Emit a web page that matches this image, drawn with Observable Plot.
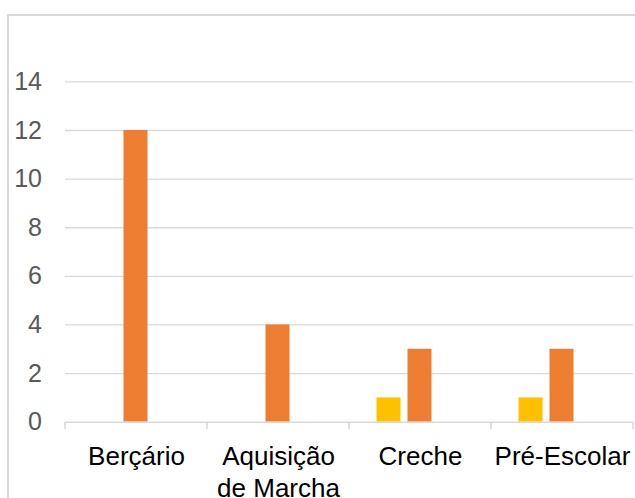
<!DOCTYPE html>
<html>
<head>
<meta charset="utf-8">
<script src="https://cdn.jsdelivr.net/npm/d3@7"></script>
<script src="https://cdn.jsdelivr.net/npm/@observablehq/plot@0.6"></script>
<style>
  html, body { margin: 0; padding: 0; background: #fff; overflow: hidden; }
  #wrap { position: relative; width: 635px; height: 498px; overflow: hidden; }
  #border { position: absolute; left: 6.5px; top: 13.5px; width: 700px; height: 600px; border: 2px solid #d9d9d9; box-sizing: border-box; }
  #chart { position: absolute; left: 0; top: 0; }
</style>
</head>
<body>
<div id="wrap"><div id="border"></div><div id="chart"></div></div>
<script>
const categories = ["Berçário", "Aquisição de Marcha", "Creche", "Pré-Escolar"];
const categoryLabels = ["Berçário", "Aquisição\nde Marcha", "Creche", "Pré-Escolar"];
const seriesNames = ["Série 1", "Série 2", "Série 3"];
const series1 = [0, 0, 1, 1];
const series2 = [12, 4, 3, 3];
const series3 = [0, 0, 0, 0];
const seriesColors = ["#FFC000", "#ED7D31", "#A5A5A5"];
const yTicks = [0, 2, 4, 6, 8, 10, 12, 14];

const allSeries = [series1, series2, series3];
const data = [];
categories.forEach((c, i) => {
  allSeries.forEach((s, j) => {
    if (s[i] > 0) data.push({category: c, series: seriesNames[j], value: s[i]});
  });
});
const labelOf = new Map(categories.map((c, i) => [c, categoryLabels[i]]));

const W = 635, H = 498;
const mL = 64.5, mR = 1.5, mT = 81.4, mB = 76.3;

const plot = Plot.plot({
  width: W,
  height: H,
  marginLeft: mL,
  marginRight: mR,
  marginTop: mT,
  marginBottom: mB,
  style: {fontFamily: "Arial, 'Liberation Sans', sans-serif", background: "transparent", overflow: "visible"},
  fx: {domain: categories, padding: 0, label: null},
  x: {domain: seriesNames, paddingInner: 0.21875, paddingOuter: 0.832, axis: null},
  y: {domain: [0, 14], label: null},
  color: {domain: seriesNames, range: seriesColors},
  marks: [
    Plot.gridY(yTicks.filter(d => d > 0), {stroke: "#d9d9d9", strokeOpacity: 1, strokeWidth: 1.3}),
    Plot.barY(data, {fx: "category", x: "series", y: "value", fill: "series"}),
    Plot.ruleY([0], {stroke: "#d9d9d9", strokeWidth: 1.5}),
    Plot.axisY(yTicks, {tickSize: 0, tickPadding: 23.5, fontSize: 25, fill: "#595959", label: null}),
    Plot.axisFx({anchor: "bottom", tickSize: 0, tickPadding: 20.3, fontSize: 26, fill: "#000", lineHeight: 1.23, label: null, tickFormat: d => labelOf.get(d)})
  ]
});

// boundary tick marks along the category axis, placed with the library's scales
const fx = plot.scale("fx");
const ys = plot.scale("y");
const y0 = ys.apply(0);
const svg = d3.select(plot);
const edges = categories.map(c => fx.apply(c));
edges.push(fx.apply(categories[categories.length - 1]) + fx.bandwidth);
svg.append("g")
  .attr("stroke", "#d9d9d9")
  .attr("stroke-width", 1.5)
  .selectAll("line")
  .data(edges)
  .join("line")
  .attr("x1", d => d).attr("x2", d => d)
  .attr("y1", y0).attr("y2", y0 + 7.5);

document.getElementById("chart").appendChild(plot);
</script>
</body>
</html>
